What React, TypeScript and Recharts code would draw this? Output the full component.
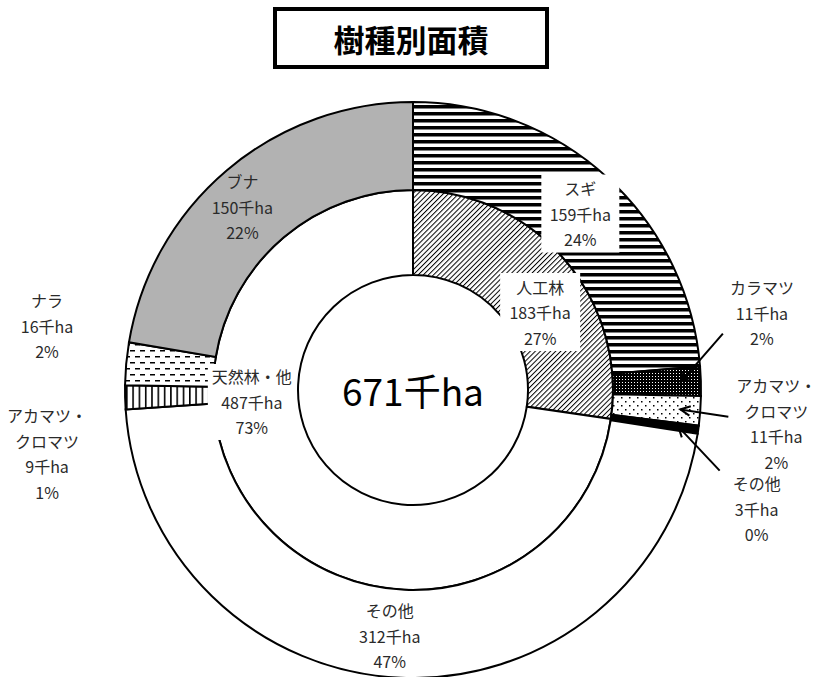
import React from 'react';
import { PieChart, Pie, Cell } from 'recharts';

// ---- data ----
const title = '樹種別面積';
const totalLabel = '671千ha';
const unit = '千ha';

const innerNames = ['人工林', '天然林・他'];
const innerValues = [183, 487];
const innerPct = ['27%', '73%'];

const outerNames = ['スギ', 'カラマツ', 'アカマツ・クロマツ', 'その他', 'その他', 'アカマツ・クロマツ', 'ナラ', 'ブナ'];
const outerValues = [159, 11, 11, 3, 312, 9, 16, 150];
const outerPct = ['24%', '2%', '2%', '0%', '47%', '1%', '2%', '22%'];

// ---- styles / layout ----
const innerFills = ['url(#pHatch)', '#ffffff'];
const outerFills = ['url(#pSugi)', 'url(#pKara)', 'url(#pDots)', '#000000', '#ffffff', 'url(#pVert)', 'url(#pDash)', '#b2b2b2'];

type LabelLayout = { dx: number; dy: number; box?: [number, number]; arrow?: [number, number] };

const outerLayout: LabelLayout[] = [
  { dx: 2, dy: 3, box: [78, 78] },
  { dx: 105, dy: -70, arrow: [-39, 21] },
  { dx: 120, dy: 16, arrow: [-48, -7] },
  { dx: 102, dy: 85, arrow: [-37, -38] },
  { dx: -13, dy: 2 },
  { dx: -122, dy: 57 },
  { dx: -123, dy: -42 },
  { dx: -13, dy: 3 },
];
const innerLayout: LabelLayout[] = [
  { dx: 8, dy: 25, box: [80, 78] },
  { dx: -42, dy: -91, box: [88, 76] },
];

const W = 821;
const H = 677;
const CX = 413;
const CY = 390;
const R_IN0 = 115;
const R_IN1 = 200;
const R_OUT = 288;
const ARROW_R = 268;
const LINE_H = 25.5;
const FONT = '"Noto Sans CJK JP", "Noto Sans", sans-serif';

const innerData = innerNames.map((n, i) => ({ name: n, value: innerValues[i], pct: innerPct[i] }));
const outerData = outerNames.map((n, i) => ({ name: n, value: outerValues[i], pct: outerPct[i] }));

const splitName = (n: string) => {
  if (n.length > 6 && n.includes('・')) {
    const k = n.indexOf('・') + 1;
    return [n.slice(0, k), n.slice(k)];
  }
  return [n];
};

const makeLabel = (layout: LabelLayout[], data: { name: string; value: number; pct: string }[]) => (props: any) => {
  const { cx, cy, midAngle, innerRadius, outerRadius, index } = props;
  const RAD = Math.PI / 180;
  const rm = (innerRadius + outerRadius) / 2;
  const lay = layout[index];
  const d = data[index];
  const x = cx + rm * Math.cos(-midAngle * RAD) + lay.dx;
  const y = cy + rm * Math.sin(-midAngle * RAD) + lay.dy;
  const lines = [...splitName(d.name), `${d.value}${unit}`, d.pct];
  const n = lines.length;
  let arrow = null;
  if (lay.arrow) {
    const tx = cx + ARROW_R * Math.cos(-midAngle * RAD);
    const ty = cy + ARROW_R * Math.sin(-midAngle * RAD);
    const sx = x + lay.arrow[0];
    const sy = y + lay.arrow[1];
    const ang = Math.atan2(ty - sy, tx - sx);
    const L = 11;
    const a1 = ang + Math.PI - 0.45;
    const a2 = ang + Math.PI + 0.45;
    arrow = (
      <g stroke="#000" strokeWidth={2} fill="none">
        <line x1={sx} y1={sy} x2={tx} y2={ty} />
        <polyline points={`${tx + L * Math.cos(a1)},${ty + L * Math.sin(a1)} ${tx},${ty} ${tx + L * Math.cos(a2)},${ty + L * Math.sin(a2)}`} />
      </g>
    );
  }
  return (
    <g key={`lbl-${index}`}>
      {arrow}
      {lay.box && (
        <rect x={x - lay.box[0] / 2} y={y - lay.box[1] / 2} width={lay.box[0]} height={lay.box[1]} fill="#fff" />
      )}
      <text textAnchor="middle" fontFamily={FONT} fontSize={16} fill="#2a2a2a">
        {lines.map((t, i) => (
          <tspan key={i} x={x} y={y + (i - (n - 1) / 2) * LINE_H} dominantBaseline="central">
            {t}
          </tspan>
        ))}
      </text>
    </g>
  );
};

const Patterns = () => (
  <svg width={0} height={0} style={{ position: 'absolute' }}>
    <defs>
      <pattern id="pSugi" patternUnits="userSpaceOnUse" width={8} height={7}>
        <rect width={8} height={7} fill="#fff" />
        <rect width={8} height={3.5} fill="#000" />
      </pattern>
      <pattern id="pHatch" patternUnits="userSpaceOnUse" width={3.6} height={4} patternTransform="rotate(45)">
        <rect width={3.6} height={4} fill="#fff" />
        <rect width={1} height={4} fill="#000" />
      </pattern>
      <pattern id="pKara" patternUnits="userSpaceOnUse" width={3} height={3}>
        <rect width={3} height={3} fill="#000" />
        <rect x={1} y={1} width={1} height={1} fill="#fff" />
      </pattern>
      <pattern id="pDots" patternUnits="userSpaceOnUse" width={8} height={8}>
        <rect width={8} height={8} fill="#fff" />
        <rect x={1} y={1} width={1.5} height={1.5} fill="#000" />
        <rect x={5} y={5} width={1.5} height={1.5} fill="#000" />
      </pattern>
      <pattern id="pVert" patternUnits="userSpaceOnUse" width={6.3} height={6}>
        <rect width={6.3} height={6} fill="#fff" />
        <rect width={1.6} height={6} fill="#000" />
      </pattern>
      <pattern id="pDash" patternUnits="userSpaceOnUse" width={10} height={12}>
        <rect width={10} height={12} fill="#fff" />
        <rect x={0} y={2} width={5} height={1.5} fill="#000" />
        <rect x={5} y={8} width={5} height={1.5} fill="#000" />
      </pattern>
    </defs>
  </svg>
);

export default function App() {
  return (
    <div style={{ position: 'absolute', left: 0, top: 0, width: W, height: H, background: '#fff', overflow: 'hidden' }}>
      <Patterns />
      <PieChart
        width={W}
        height={H}
        margin={{ top: 0, right: 0, bottom: 0, left: 0 }}
        style={{ position: 'absolute', left: 0, top: 0 }}
      >
        <Pie
          data={innerData}
          dataKey="value"
          cx={CX}
          cy={CY}
          innerRadius={R_IN0}
          outerRadius={R_IN1}
          startAngle={90}
          endAngle={-270}
          stroke="#000"
          strokeWidth={2}
          isAnimationActive={false}
          label={false}
          labelLine={false}
        >
          {innerData.map((_, i) => (
            <Cell key={i} fill={innerFills[i]} />
          ))}
        </Pie>
        <Pie
          data={outerData}
          dataKey="value"
          cx={CX}
          cy={CY}
          innerRadius={R_IN1}
          outerRadius={R_OUT}
          startAngle={90}
          endAngle={-270}
          stroke="#000"
          strokeWidth={2}
          isAnimationActive={false}
          label={makeLabel(outerLayout, outerData)}
          labelLine={false}
        >
          {outerData.map((_, i) => (
            <Cell key={i} fill={outerFills[i]} />
          ))}
        </Pie>
        <Pie
          data={innerData}
          dataKey="value"
          cx={CX}
          cy={CY}
          innerRadius={R_IN0}
          outerRadius={R_IN1}
          startAngle={90}
          endAngle={-270}
          fill="none"
          stroke="none"
          isAnimationActive={false}
          label={makeLabel(innerLayout, innerData)}
          labelLine={false}
        />
      </PieChart>
      <div
        style={{
          position: 'absolute',
          left: 273,
          top: 7,
          width: 276,
          height: 62,
          border: '4px solid #000',
          boxSizing: 'border-box',
          display: 'flex',
          alignItems: 'center',
          justifyContent: 'center',
          fontFamily: FONT,
          fontWeight: 'bold',
          fontSize: 31,
          background: '#fff',
        }}
      >
        {title}
      </div>
      <div
        style={{
          position: 'absolute',
          left: CX - 100,
          top: CY - 25,
          width: 200,
          height: 50,
          display: 'flex',
          alignItems: 'center',
          justifyContent: 'center',
          fontFamily: FONT,
          fontSize: 37,
          color: '#000',
          pointerEvents: 'none',
        }}
      >
        {totalLabel}
      </div>
    </div>
  );
}
